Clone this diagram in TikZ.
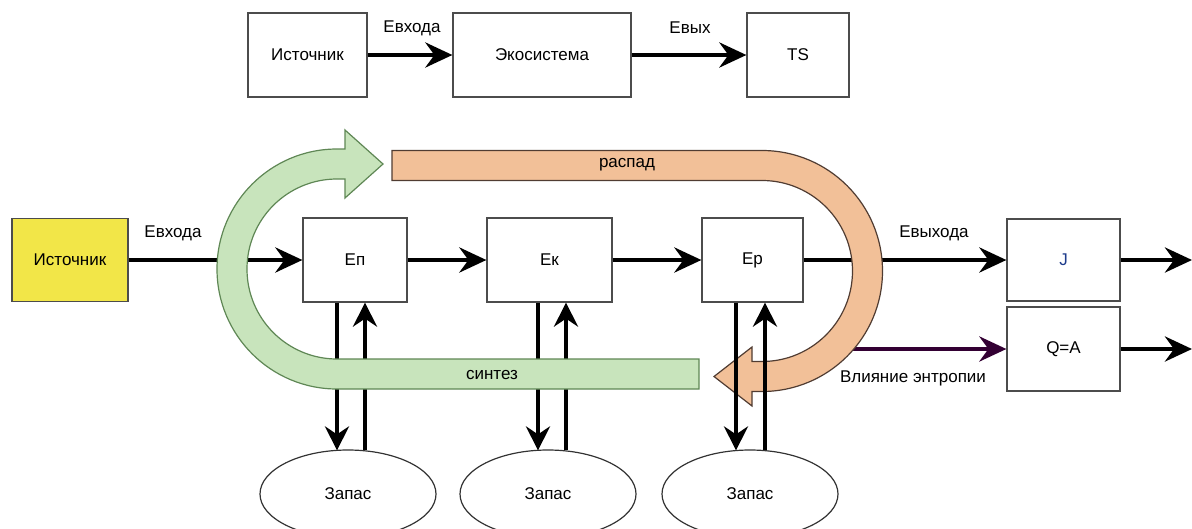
\documentclass[tikz,border=0pt]{standalone}
\usepackage{fontspec}
\setmainfont{Liberation Sans}
\usetikzlibrary{arrows.meta,shapes.geometric}
\definecolor{ylw}{RGB}{242,230,72}
\definecolor{grnfill}{RGB}{200,228,188}
\definecolor{grnline}{RGB}{95,135,85}
\definecolor{orgfill}{RGB}{242,192,152}
\definecolor{orgline}{RGB}{80,60,50}
\definecolor{purp}{RGB}{51,0,51}
\definecolor{jblue}{RGB}{30,60,140}
\tikzset{
  box/.style={draw=black!70, line width=1.2pt, fill=white, inner sep=0pt, font=\fontsize{17}{20}\selectfont},
  ell/.style={ellipse, draw=black!80, line width=1.2pt, fill=white, inner sep=0pt, minimum width=176pt, minimum height=88pt, font=\fontsize{17}{20}\selectfont},
  arr/.style={line width=4.5pt, -{Stealth[length=27pt,width=25pt,inset=9pt]}},
  lbl/.style={font=\fontsize{17}{20}\selectfont, inner sep=0pt},
  bigarrow/.style={line width=1.2pt, line join=miter},
}
\begin{document}
\begin{tikzpicture}[x=1pt,y=-1pt]
\useasboundingbox (0,0) rectangle (1192,528);
% top row
\node[box, minimum width=119pt, minimum height=84pt] (s0) at (307.5,55) {Источник};
\node[box, minimum width=178pt, minimum height=84pt] (eco) at (542,55) {Экосистема};
\node[box, minimum width=102pt, minimum height=84pt] (ts) at (798,55) {TS};
\draw[arr] (s0) -- (eco);
\draw[arr] (eco) -- (ts);
\node[lbl] (l1) at (412,28) {Евхода};
\node[lbl] (l2) at (690,28) {Евых};
% main row
\node[box, fill=ylw, minimum width=116pt, minimum height=83pt] (src) at (70,260) {Источник};
\node[box, minimum width=104pt, minimum height=84pt] (en) at (355,260) {Еп};
\node[box, minimum width=125pt, minimum height=84pt] (ek) at (549.5,260) {Ек};
\node[box, minimum width=101pt, minimum height=84pt] (er) at (752.5,260) {Ер};
\node[box, minimum width=113pt, minimum height=82pt] (j) at (1063.5,260) {\textcolor{jblue}{J}};
\node[box, minimum width=113pt, minimum height=84pt] (q) at (1063.5,349) {Q=A};
\node[ell] (z1) at (348,494) {Запас};
\node[ell] (z2) at (548,494) {Запас};
\node[ell] (z3) at (750,494) {Запас};
\coordinate (outj) at (1192,260);
\coordinate (outq) at (1192,349);
\coordinate (pst) at (850,349);
\draw[arr] (src) -- (en);
\draw[arr] (en) -- (ek);
\draw[arr] (ek) -- (er);
\draw[arr] (er) -- (j);
\draw[arr] (j) -- (outj);
\draw[arr] (q) -- (outq);
\draw[arr, draw=purp, fill=purp] (pst) -- (q);
% vertical connectors
\coordinate (d1) at (337,0); \coordinate (u1) at (365,0);
\coordinate (d2) at (538,0); \coordinate (u2) at (566,0);
\coordinate (d3) at (736,0); \coordinate (u3) at (765,0);
\draw[arr, -{Stealth[length=24pt,width=24pt,inset=8pt]}] (en.south -| d1) -- ([yshift=-1pt]z1.north -| d1);
\draw[arr, -{Stealth[length=24pt,width=24pt,inset=8pt]}] ([yshift=-1pt]z1.north -| u1) -- (en.south -| u1);
\draw[arr, -{Stealth[length=24pt,width=24pt,inset=8pt]}] (ek.south -| d2) -- ([yshift=-1pt]z2.north -| d2);
\draw[arr, -{Stealth[length=24pt,width=24pt,inset=8pt]}] ([yshift=-1pt]z2.north -| u2) -- (ek.south -| u2);
% green synthesis arrow
\draw[bigarrow, draw=grnline, fill=grnfill]
  (699,359) -- (699,389) -- (337,389) arc[start angle=90, end angle=270, radius=120]
  -- (345,149) -- (345,130) -- (383,164) -- (345,198) -- (345,179) -- (337,179)
  arc[start angle=270, end angle=90, radius=90] -- cycle;
\node[lbl] (syn) at (492,375) {синтез};
% orange decay arrow
\draw[bigarrow, draw=orgline, fill=orgfill]
  (392,150.5) -- (762,150.5) arc[start angle=270, end angle=450, radius=120.5]
  -- (752,391.5) -- (752,406) -- (714,376.5) -- (752,347) -- (752,361.5) -- (762,361.5)
  arc[start angle=90, end angle=-90, radius=90.5] -- (392,180.5) -- cycle;
\node[lbl] (dec) at (627,165) {распад};
% vertical connectors of Er (over orange)
\draw[arr, -{Stealth[length=24pt,width=24pt,inset=8pt]}] (er.south -| d3) -- ([yshift=-1pt]z3.north -| d3);
\draw[arr, -{Stealth[length=24pt,width=24pt,inset=8pt]}] ([yshift=-1pt]z3.north -| u3) -- (er.south -| u3);
% labels
\node[lbl] (l3) at (173,233) {Евхода};
\node[lbl] (l4) at (934,233) {Евыхода};
\node[lbl] (l5) at (913,378) {Влияние энтропии};
\end{tikzpicture}
\end{document}
